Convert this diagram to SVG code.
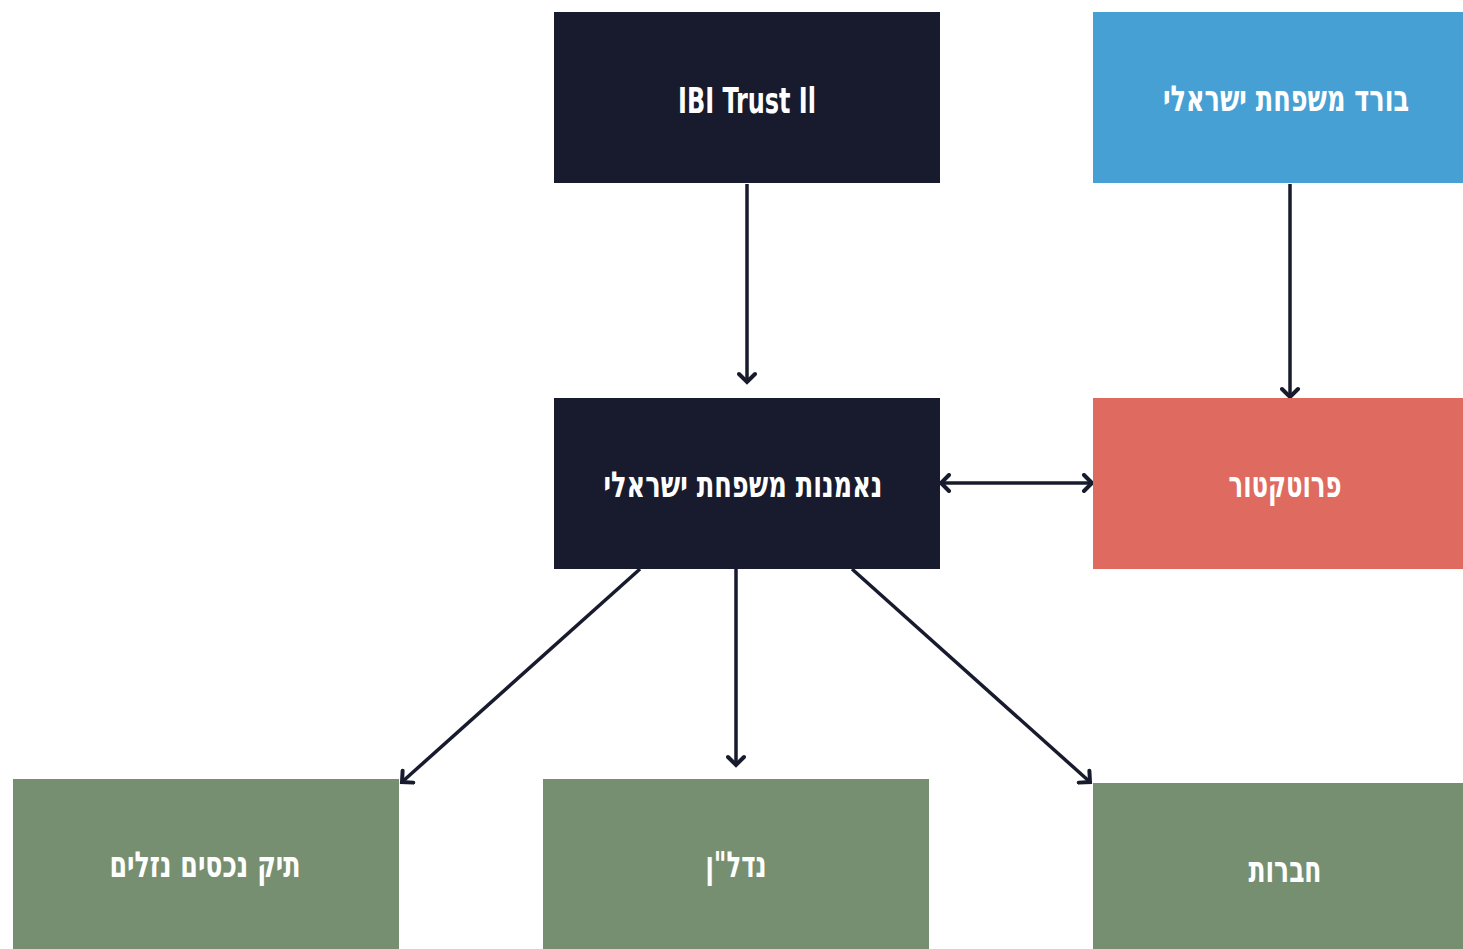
<svg xmlns="http://www.w3.org/2000/svg" width="1463" height="949" viewBox="0 0 1463 949">
<style>
.lbl{font-family:"DejaVu Sans Condensed","DejaVu Sans","Noto Sans",sans-serif;font-weight:bold;fill:#ffffff;font-size:36px;text-anchor:middle}
.dark{fill:#181b2d}
.blue{fill:#47a0d4}
.red{fill:#df6a60}
.green{fill:#758f70}
.con{stroke:#181b2d;stroke-width:3.5;fill:none}
</style>
<defs>
<marker id="ah" viewBox="0 0 20 20" refX="17" refY="10" markerWidth="20" markerHeight="20" markerUnits="userSpaceOnUse" orient="auto-start-reverse">
<polyline points="9,2 17,10 9,18" fill="none" stroke="#181b2d" stroke-width="4" stroke-linecap="round" stroke-linejoin="miter"/>
</marker>
</defs>
<rect width="1463" height="949" fill="#ffffff"/>
<g id="connectors">
<line class="con" x1="747" y1="184" x2="747" y2="382" marker-end="url(#ah)"/>
<line class="con" x1="1290" y1="184" x2="1290" y2="397" marker-end="url(#ah)"/>
<line class="con" x1="941" y1="483" x2="1092" y2="483" marker-start="url(#ah)" marker-end="url(#ah)"/>
<line class="con" x1="640" y1="569" x2="402" y2="782" marker-end="url(#ah)"/>
<line class="con" x1="736" y1="569" x2="736" y2="765" marker-end="url(#ah)"/>
<line class="con" x1="852" y1="569" x2="1090" y2="782" marker-end="url(#ah)"/>
</g>
<g id="node-ibi">
<rect class="dark" x="554" y="12" width="386" height="171"/>
<text class="lbl" x="747" y="113" textLength="138" lengthAdjust="spacingAndGlyphs" font-size="39">IBI Trust Il</text>
</g>
<g id="node-board">
<rect class="blue" x="1093" y="12" width="370" height="171"/>
<text class="lbl" x="1286" y="111" textLength="246" lengthAdjust="spacingAndGlyphs">בורד משפחת ישראלי</text>
</g>
<g id="node-trust">
<rect class="dark" x="554" y="398" width="386" height="171"/>
<text class="lbl" x="743" y="497" textLength="279" lengthAdjust="spacingAndGlyphs">נאמנות משפחת ישראלי</text>
</g>
<g id="node-protector">
<rect class="red" x="1093" y="398" width="370" height="171"/>
<text class="lbl" x="1285" y="497" textLength="113" lengthAdjust="spacingAndGlyphs">פרוטקטור</text>
</g>
<g id="node-liquid">
<rect class="green" x="13" y="779" width="386" height="170"/>
<text class="lbl" x="205" y="877" textLength="191" lengthAdjust="spacingAndGlyphs">תיק נכסים נזלים</text>
</g>
<g id="node-realestate">
<rect class="green" x="543" y="779" width="386" height="170"/>
<text class="lbl" x="736" y="877" textLength="61" lengthAdjust="spacingAndGlyphs">נדל"ן</text>
</g>
<g id="node-companies">
<rect class="green" x="1093" y="783" width="370" height="166"/>
<text class="lbl" x="1285" y="882" textLength="73" lengthAdjust="spacingAndGlyphs">חברות</text>
</g>
</svg>
